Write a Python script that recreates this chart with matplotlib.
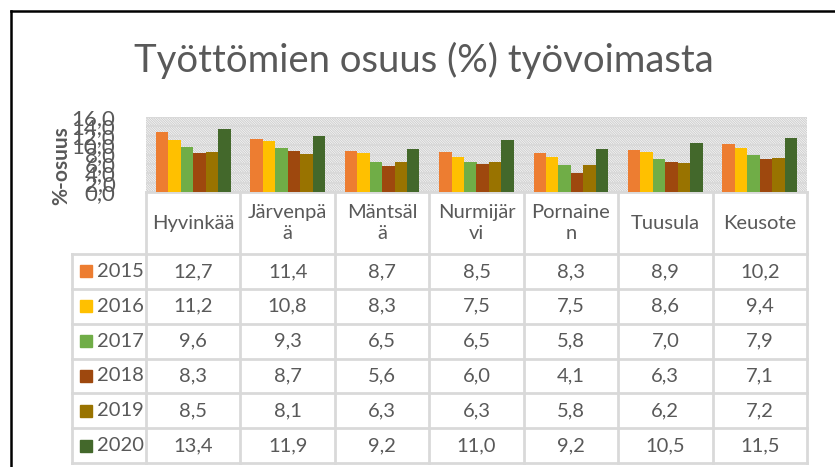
import matplotlib
matplotlib.use("Agg")
import matplotlib.pyplot as plt
from matplotlib.patches import Rectangle
from matplotlib.lines import Line2D

# Data
kunnat = ["Hyvinkää", "Järvenpää", "Mäntsälä", "Nurmijärvi", "Pornainen", "Tuusula", "Keusote"]
kunta_otsikot = ["Hyvinkää", "Järvenpä\nä", "Mäntsäl\nä", "Nurmijär\nvi", "Pornaine\nn", "Tuusula", "Keusote"]
vuodet = ["2015", "2016", "2017", "2018", "2019", "2020"]
arvot = {
    "2015": [12.7, 11.4, 8.7, 8.5, 8.3, 8.9, 10.2],
    "2016": [11.2, 10.8, 8.3, 7.5, 7.5, 8.6, 9.4],
    "2017": [9.6, 9.3, 6.5, 6.5, 5.8, 7.0, 7.9],
    "2018": [8.3, 8.7, 5.6, 6.0, 4.1, 6.3, 7.1],
    "2019": [8.5, 8.1, 6.3, 6.3, 5.8, 6.2, 7.2],
    "2020": [13.4, 11.9, 9.2, 11.0, 9.2, 10.5, 11.5],
}
y_ticks = [0, 2, 4, 6, 8, 10, 12, 14, 16]
varit = ["#ED7D31", "#FFC000", "#70AD47", "#9E480E", "#997300", "#43682B"]

TEKSTI = "#595959"
VIIVA = "#D9D9D9"
W, H = 835, 467

plt.rcParams["font.family"] = ["Lato", "DejaVu Sans"]
plt.rcParams["hatch.linewidth"] = 0.8
plt.rcParams["hatch.color"] = "#D0D0D0"

fig = plt.figure(figsize=(W / 100, H / 100), dpi=100)

def fx(px):
    return px / W

def fy(py):
    return 1 - py / H

# Plot area (pixels)
left, right, top, bottom = 146, 807, 117, 192
ax = fig.add_axes([fx(left), fy(bottom), fx(right - left), (bottom - top) / H])
ax.add_patch(Rectangle((0, 0), 1, 1, transform=ax.transAxes, facecolor="white",
                       hatch="\\\\\\\\\\\\\\\\\\\\\\\\\\\\", edgecolor="#D0D0D0", lw=0, zorder=0))
ax.set_ylim(0, 16)
ax.set_xlim(-0.5, len(kunnat) - 0.5)
ax.set_yticks(y_ticks)
ax.set_yticklabels([f"{v:.1f}".replace(".", ",") for v in y_ticks], fontsize=16, color=TEKSTI)
ax.tick_params(axis="y", length=0, pad=22)
ax.set_xticks([])
ax.grid(axis="y", color=VIIVA, lw=1.5, zorder=1)
ax.set_axisbelow(True)
for s in ["top", "right", "left"]:
    ax.spines[s].set_visible(False)
ax.spines["bottom"].set_color(VIIVA)
ax.spines["bottom"].set_linewidth(2)

lev = 0.132
for i, v in enumerate(vuodet):
    xs = [k + (i - 2.5) * lev for k in range(len(kunnat))]
    ax.bar(xs, arvot[v], width=lev, color=varit[i], zorder=3)

ax.set_ylabel("%-osuus", fontsize=15, fontweight="bold", color=TEKSTI)
ax.yaxis.set_label_coords((71 - left) / (right - left), 0.35)

# Title
fig.text(fx(424), fy(60), "Työttömien osuus (%) työvoimasta", fontsize=27.5,
         color=TEKSTI, ha="center", va="center")

# Data table
col_w = (right - left) / len(kunnat)
head_bot = 254
row_h = (463 - head_bot) / len(vuodet)
tab_left = 72
table_bottom = head_bot + row_h * len(vuodet)

def viiva(x0, y0, x1, y1):
    fig.add_artist(Line2D([fx(x0), fx(x1)], [fy(y0), fy(y1)], color=VIIVA, lw=2))

for k in range(len(kunnat) + 1):
    viiva(left + k * col_w, bottom, left + k * col_w, table_bottom)
viiva(tab_left, head_bot, tab_left, table_bottom)
for r in range(len(vuodet) + 1):
    viiva(tab_left, head_bot + r * row_h, right, head_bot + r * row_h)

for k, nimi in enumerate(kunta_otsikot):
    fig.text(fx(left + (k + 0.5) * col_w), fy((bottom + head_bot) / 2), nimi,
             fontsize=14.5, color=TEKSTI, ha="center", va="center", linespacing=1.25)

for r, v in enumerate(vuodet):
    yc = head_bot + (r + 0.5) * row_h
    fig.add_artist(Rectangle((fx(80), fy(yc + 6)), fx(12), 12 / H, color=varit[r]))
    fig.text(fx(97), fy(yc), v, fontsize=14.5, color=TEKSTI, ha="left", va="center")
    for k in range(len(kunnat)):
        fig.text(fx(left + (k + 0.5) * col_w), fy(yc), f"{arvot[v][k]:.1f}".replace(".", ","),
                 fontsize=14.5, color=TEKSTI, ha="center", va="center")

# Outer frame
fig.add_artist(Line2D([fx(11), fx(11)], [fy(11), 0], color="black", lw=1.8))
fig.add_artist(Line2D([fx(11), 1], [fy(11), fy(11)], color="black", lw=1.8))

fig.savefig("out.png", dpi=100)
